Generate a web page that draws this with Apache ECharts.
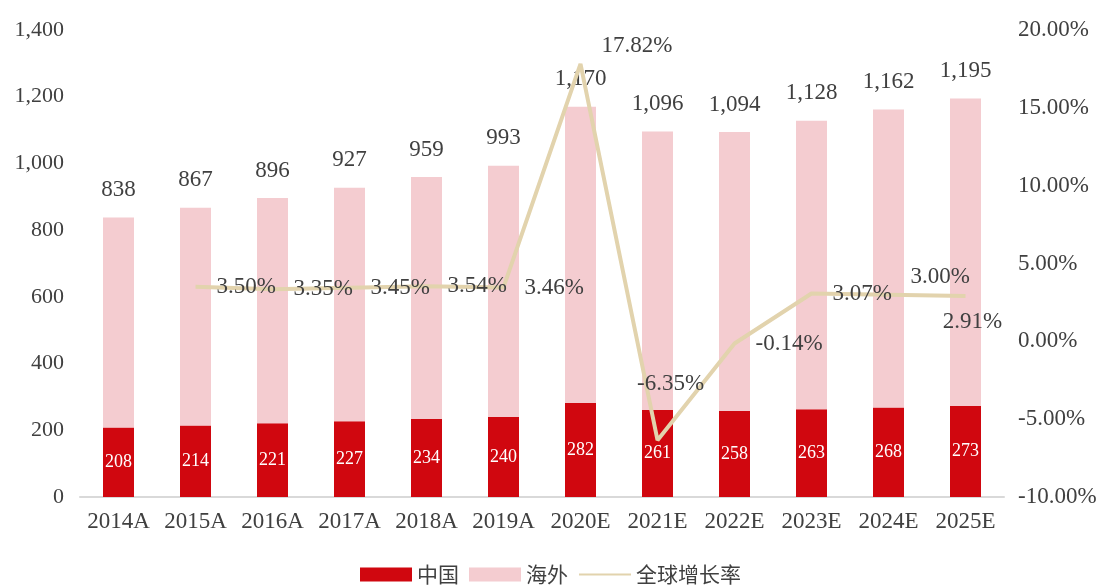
<!DOCTYPE html>
<html>
<head>
<meta charset="utf-8">
<script src="https://cdn.jsdelivr.net/npm/echarts@6/dist/echarts.min.js"></script>
<style>
html, body { margin: 0; padding: 0; background: #fff; }
#chart { width: 1101px; height: 585px; }
</style>
</head>
<body>
<div id="chart"></div>
<script>
// 数据
const categories = ["2014A", "2015A", "2016A", "2017A", "2018A", "2019A", "2020E", "2021E", "2022E", "2023E", "2024E", "2025E"];
const chinaValues = [208, 214, 221, 227, 234, 240, 282, 261, 258, 263, 268, 273];
const overseasValues = [630, 653, 675, 700, 725, 753, 888, 835, 836, 865, 894, 922];
const totalValues = [838, 867, 896, 927, 959, 993, 1170, 1096, 1094, 1128, 1162, 1195];
const growthValues = [null, 3.50, 3.35, 3.45, 3.54, 3.46, 17.82, -6.35, -0.14, 3.07, 3.00, 2.91];
const leftTicks = { min: 0, max: 1400, interval: 200 };
const rightTicks = { min: -10, max: 20, interval: 5 };

const serif = "'Liberation Serif', 'Times New Roman', serif";
const textColor = "#404040";

// 增长率标签的个别位置调整（相对于2px的点）
const growthLabelTweaks = {
	6: { position: [22, -17], align: "left", verticalAlign: "middle" },
	7: { position: [14, -55], align: "center", verticalAlign: "middle" },
	10: { position: [23, -17], align: "left", verticalAlign: "middle" },
	11: { position: [8, 27], align: "center", verticalAlign: "middle" }
};

const fmtThousand = (v) => String(v).replace(/\B(?=(\d{3})+(?!\d))/g, ",");

const chart = echarts.init(document.getElementById("chart"));
const option = {
	animation: false,
	textStyle: { fontFamily: serif },
	grid: {
		left: 80,
		right: 97,
		top: 30,
		bottom: 88
	},
	legend: {
		bottom: -5,
		left: "center",
		itemWidth: 52,
		itemHeight: 14,
		itemGap: 10,
		textStyle: {
			fontFamily: "'Noto Sans CJK SC', sans-serif",
			fontSize: 21,
			color: textColor
		},
		data: [
			{ name: "中国", icon: "rect" },
			{ name: "海外", icon: "rect" },
			{ name: "全球增长率" }
		]
	},
	xAxis: {
		type: "category",
		data: categories,
		axisTick: { show: false },
		axisLine: { lineStyle: { color: "#D9D9D9", width: 2 } },
		axisLabel: {
			color: textColor,
			fontSize: 23,
			fontFamily: serif,
			margin: 13,
			interval: 0
		}
	},
	yAxis: [
		{
			type: "value",
			min: leftTicks.min,
			max: leftTicks.max,
			interval: leftTicks.interval,
			splitLine: { show: false },
			axisLine: { show: false },
			axisTick: { show: false },
			axisLabel: {
				color: textColor,
				fontSize: 22,
				fontFamily: serif,
				margin: 16,
				formatter: (v) => fmtThousand(v)
			}
		},
		{
			type: "value",
			min: rightTicks.min,
			max: rightTicks.max,
			interval: rightTicks.interval,
			splitLine: { show: false },
			axisLine: { show: false },
			axisTick: { show: false },
			axisLabel: {
				color: textColor,
				fontSize: 23,
				fontFamily: serif,
				margin: 14,
				formatter: (v) => v.toFixed(2) + "%"
			}
		}
	],
	series: [
		{
			name: "中国",
			type: "bar",
			stack: "total",
			barWidth: 31,
			data: chinaValues,
			itemStyle: { color: "#D0070F" },
			label: {
				show: true,
				position: "inside",
				color: "#fff",
				fontSize: 18,
				fontFamily: serif
			}
		},
		{
			name: "海外",
			type: "bar",
			stack: "total",
			barWidth: 31,
			data: overseasValues,
			itemStyle: { color: "#F4CCD0" },
			label: {
				show: true,
				position: "top",
				distance: 16,
				color: textColor,
				fontSize: 23,
				fontFamily: serif,
				formatter: (p) => fmtThousand(totalValues[p.dataIndex])
			}
		},
		{
			name: "全球增长率",
			type: "line",
			yAxisIndex: 1,
			symbol: "circle",
			symbolSize: 2,
			showSymbol: true,
			showAllSymbol: true,
			data: growthValues.map((v, i) => {
				const tweak = growthLabelTweaks[i];
				return tweak ? { value: v, label: tweak } : v;
			}),
			lineStyle: { color: "#E2D3AD", width: 4 },
			itemStyle: { color: "rgba(226,211,173,0)", borderWidth: 0 },
			label: {
				show: true,
				position: "right",
				distance: 20,
				color: textColor,
				fontSize: 23,
				fontFamily: serif,
				formatter: (p) => (p.value == null ? "" : p.value.toFixed(2) + "%")
			},
			labelLayout: { hideOverlap: false },
			z: 3
		}
	]
};
chart.setOption(option);
</script>
</body>
</html>
